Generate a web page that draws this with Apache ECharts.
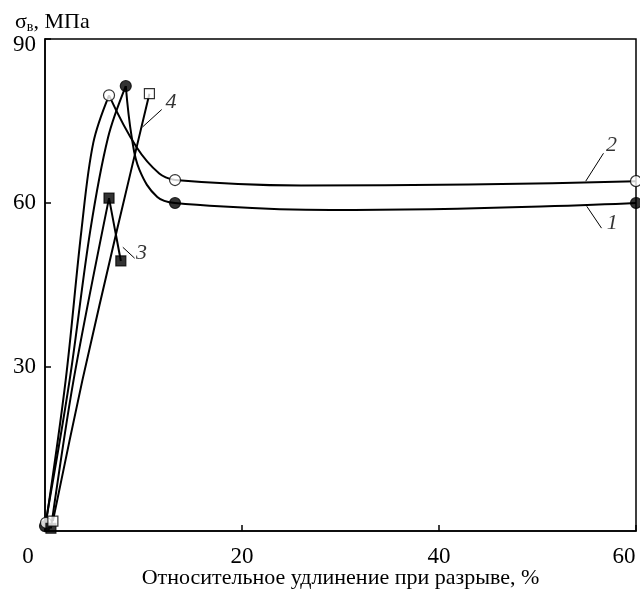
<!DOCTYPE html>
<html>
<head>
<meta charset="utf-8">
<script src="https://cdn.jsdelivr.net/npm/echarts@6/dist/echarts.min.js"></script>
<style>html,body{margin:0;padding:0;background:#fff;}#c{width:640px;height:591px;}</style>
</head>
<body>
<div id="c"></div>
<script>
// ---- data ----
const xTicks = [0, 20, 40, 60];
const yTicks = [0, 30, 60, 90];
const xTitle = 'Относительное удлинение при разрыве, %';
const yTitle = ['σ', 'в', ', МПа'];

// curve 1 (filled circles)
const c1Rise = [[0, 0.9], [2.5, 27.6], [4.6, 55], [6.4, 72], [8.2, 81.4]];
const c1Fall = [[8.2, 81.4], [8.8, 72.1], [9.6, 66], [11.4, 61.1], [13.2, 60]];
const c1Flat = [[13.2, 60], [29, 58.7], [60, 60]];
const c1Marks = [[0, 0.9], [8.2, 81.4], [13.2, 60], [60, 60]];

// curve 2 (open circles)
const c2Rise = [[0.1, 1.5], [2.1, 27.6], [3.7, 55], [4.9, 71], [6.5, 79.7]];
const c2Fall = [[6.5, 79.7], [9.3, 70.2], [11.6, 65.4], [13.2, 64.2]];
const c2Flat = [[13.2, 64.2], [26, 63.2], [60, 64]];
const c2Marks = [[0.1, 1.5], [6.5, 79.7], [13.2, 64.2], [60, 64]];

// curve 3 (filled squares)
const c3Line = [[0.6, 0.5], [2.9, 27.6], [6.5, 60.9]];
const c3Tail = [[6.5, 60.9], [7.7, 49.4]];
const c3Marks = [[0.6, 0.5], [6.5, 60.9], [7.7, 49.4]];

// curve 4 (open squares)
const c4Line = [[0.8, 1.8], [3.8, 27.6], [7.3, 55], [10.6, 80]];
const c4Marks = [[0.8, 1.8], [10.6, 80]];

// curve numbers and leader lines
const curveNames = ['1', '2', '3', '4'];
const namePos = [[57.6, 56.3], [57.5, 70.6], [9.8, 50.8], [12.8, 78.4]];
const leaders = [
  [[55.0, 59.4], [56.5, 55.4]],
  [[54.9, 64.0], [56.7, 69.1]],
  [[7.9, 51.9], [9.1, 49.9]],
  [[9.9, 73.9], [11.85, 77.1]]
];

const FONT = 'Liberation Serif';
const chart = echarts.init(document.getElementById('c'), null, {renderer: 'canvas'});

function curve(data, smooth) {
  return {type: 'line', data: data, smooth: smooth, showSymbol: false, symbol: 'none',
    lineStyle: {color: '#000', width: 2}, z: 2, silent: true, animation: false};
}
function marks(data, symbol, filled) {
  return {type: 'scatter', data: data, symbol: symbol, symbolSize: symbol === 'rect' ? 10 : 11,
    itemStyle: {color: filled ? '#000' : '#fff', borderColor: '#000', borderWidth: 1.2},
    z: 5, silent: true, animation: false};
}

const series = [
  curve(c1Rise, 0.35), curve(c1Fall, 0.4), curve(c1Flat, 0.5),
  curve(c2Rise, 0.35), curve(c2Fall, 0.4), curve(c2Flat, 0.5),
  curve(c3Line, 0.3), curve(c3Tail, false),
  curve(c4Line, 0.3),
  marks(c1Marks, 'circle', true), marks(c2Marks, 'circle', false),
  marks(c3Marks, 'rect', true), marks(c4Marks, 'rect', false)
];
leaders.forEach(function (l) {
  series.push({type: 'line', data: l, showSymbol: false, symbol: 'none',
    lineStyle: {color: '#000', width: 1}, z: 3, silent: true, animation: false});
});
series.push({
  type: 'scatter', symbolSize: 0, z: 6, silent: true, animation: false,
  data: namePos.map(function (p, i) { return {value: p, name: curveNames[i]}; }),
  label: {show: true, position: 'inside', formatter: function (p) { return p.name; },
    fontFamily: FONT, fontStyle: 'italic', fontSize: 22, color: '#000'}
});

chart.setOption({
  backgroundColor: '#fff',
  animation: false,
  title: {
    left: 10, top: 6,
    text: '{s|' + yTitle[0] + '}{sub|' + yTitle[1] + '}{n|' + yTitle[2] + '}',
    textStyle: {
      fontWeight: 'normal',
      rich: {
        s: {fontFamily: FONT, fontSize: 22, fontWeight: 'normal', color: '#000'},
        sub: {fontFamily: FONT, fontSize: 14, fontWeight: 'normal', color: '#000', verticalAlign: 'bottom', padding: [9, 0, 0, 0]},
        n: {fontFamily: FONT, fontSize: 22, fontWeight: 'normal', color: '#000'}
      }
    }
  },
  grid: {left: 45, right: 4, top: 39, bottom: 60, outerBoundsMode: 'none', containLabel: false,
    show: true, borderColor: '#000', borderWidth: 1.5, backgroundColor: 'transparent'},
  xAxis: {
    type: 'value', min: xTicks[0], max: xTicks[xTicks.length - 1], interval: xTicks[1] - xTicks[0],
    name: xTitle, nameLocation: 'middle', nameGap: 36, nameMoveOverlap: false,
    nameTextStyle: {fontFamily: FONT, fontSize: 22, color: '#000'},
    axisLine: {show: true, lineStyle: {color: '#000', width: 1.5}},
    axisTick: {show: true, inside: true, length: 6, lineStyle: {color: '#000', width: 1.5}},
    splitLine: {show: false},
    axisLabel: {
      margin: 14, fontFamily: FONT, fontSize: 23, color: '#000',
      formatter: function (v) {
        if (v === xTicks[0]) return '{a|' + v + '}';
        if (v === xTicks[xTicks.length - 1]) return '{b|' + v + '}';
        return '' + v;
      },
      rich: {
        a: {fontFamily: FONT, fontSize: 23, color: '#000', padding: [0, 34, 0, 0]},
        b: {fontFamily: FONT, fontSize: 23, color: '#000', padding: [0, 24, 0, 0]}
      }
    }
  },
  yAxis: {
    type: 'value', min: yTicks[0], max: yTicks[yTicks.length - 1], interval: yTicks[1] - yTicks[0],
    axisLine: {show: true, lineStyle: {color: '#000', width: 1.5}},
    axisTick: {show: true, inside: true, length: 6, lineStyle: {color: '#000', width: 1.5}},
    splitLine: {show: false},
    axisLabel: {
      margin: 9, fontFamily: FONT, fontSize: 23, color: '#000', showMinLabel: false,
      formatter: function (v) {
        if (v === yTicks[yTicks.length - 1]) return '{t|' + v + '}';
        return '' + v;
      },
      rich: {t: {fontFamily: FONT, fontSize: 23, color: '#000', padding: [12, 0, 0, 0]}}
    }
  },
  series: series
});
</script>
</body>
</html>
